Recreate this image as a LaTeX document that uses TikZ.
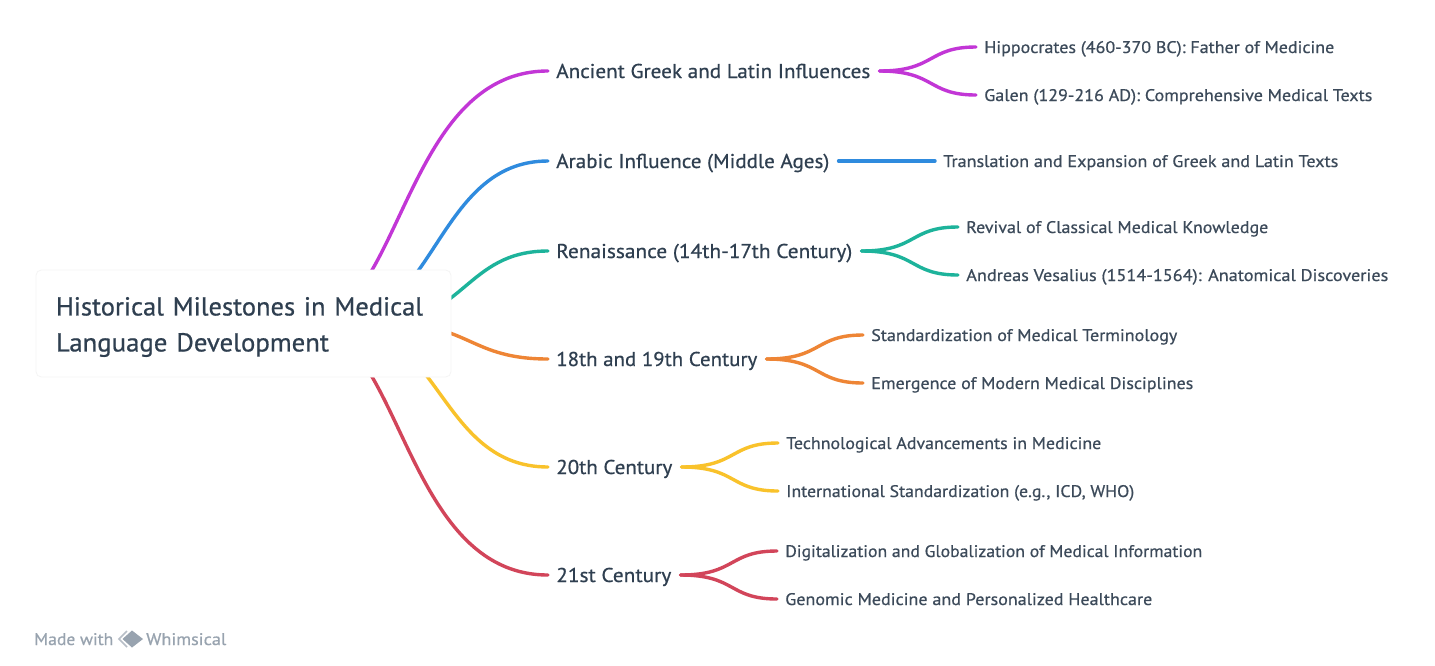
\documentclass[tikz,border=0pt]{standalone}
\usepackage{fontspec}
\usepackage{graphicx}
\setmainfont[FakeBold=0.6]{PT Sans}
\usetikzlibrary{backgrounds}
\definecolor{rootink}{HTML}{2F3F50}
\definecolor{labelink}{HTML}{2F3F50}
\definecolor{leafink}{HTML}{3C4A5A}
\definecolor{markink}{HTML}{98A3AF}
\definecolor{cpurple}{HTML}{C236D6}
\definecolor{cblue}{HTML}{2F8BDE}
\definecolor{cgreen}{HTML}{1DB39B}
\definecolor{corange}{HTML}{EE8535}
\definecolor{cyellow}{HTML}{F9C22B}
\definecolor{cred}{HTML}{D2455A}
\newlength\pxu \pxu=0.75pt
\newcommand\tw[2]{\resizebox{#1\pxu}{\height}{#2}}
\newcommand\rl[2]{\raisebox{-3.5\pxu}[\height][\depth]{\tw{#1}{#2}}}
\tikzset{
  x=0.75pt,y=-0.75pt,
  rootbox/.style={draw=black!4,fill=white,rounded corners=4pt,line width=.6pt,minimum width=415\pxu,minimum height=107\pxu,
    inner xsep=20\pxu,inner ysep=0pt,text width=375\pxu,align=left,text=rootink,font=\fontsize{19.5pt}{27pt}\selectfont},
  midlabel/.style={anchor=west,inner xsep=7\pxu,inner ysep=0pt,text height=16\pxu,text depth=2\pxu,text=labelink,font=\fontsize{15pt}{18pt}\selectfont},
  leaflabel/.style={anchor=west,inner xsep=7\pxu,inner ysep=0pt,text height=14\pxu,text depth=2\pxu,text=leafink,font=\fontsize{12.6pt}{15pt}\selectfont},
  marktext/.style={anchor=west,inner sep=0pt,text height=14\pxu,text depth=2\pxu,text=markink,font=\fontsize{12.6pt}{15pt}\selectfont},
  link/.style={line width=3.4\pxu,line cap=round,shorten >=1\pxu},
  sublink/.style={link,shorten <=2\pxu}
}
\newcommand\branch[3]{\draw[sublink,#1] (#2.east) .. controls +(58,0) and +(-50,0) .. (#3.west);}
\begin{document}
\begin{tikzpicture}
\useasboundingbox (0,0) rectangle (1435,665);
\node[rootbox] (root) at (243.5,323.5) {\rl{367}{Historical Milestones in Medical}\\\rl{273}{Language Development}};
\coordinate (sa) at (305,323.5);
\coordinate (sb) at (335,323.5);
\coordinate (sc) at (375,323.5);
\coordinate (sd) at (390,323.5);
\coordinate (se) at (340,323.5);
\coordinate (sf) at (305,323.5);

\node[midlabel] (ma) at (549,71) {\tw{314}{Ancient Greek and Latin Influences}};
\node[midlabel] (mb) at (549,161) {\tw{273}{Arabic Influence (Middle Ages)}};
\node[midlabel] (mc) at (549,251) {\tw{296}{Renaissance (14th-17th Century)}};
\node[midlabel] (md) at (549,359) {\tw{201}{18th and 19th Century}};
\node[midlabel] (me) at (549,467) {\tw{116}{20th Century}};
\node[midlabel] (mf) at (549,575) {\tw{115}{21st Century}};

\node[leaflabel] (a1) at (977,47) {\tw{350}{Hippocrates (460-370 BC): Father of Medicine}};
\node[leaflabel] (a2) at (977,95) {\tw{388}{Galen (129-216 AD): Comprehensive Medical Texts}};
\node[leaflabel] (b1) at (936,161) {\tw{395}{Translation and Expansion of Greek and Latin Texts}};
\node[leaflabel] (c1) at (959,227) {\tw{302}{Revival of Classical Medical Knowledge}};
\node[leaflabel] (c2) at (959,275) {\tw{422}{Andreas Vesalius (1514-1564): Anatomical Discoveries}};
\node[leaflabel] (d1) at (864,335) {\tw{306}{Standardization of Medical Terminology}};
\node[leaflabel] (d2) at (864,383) {\tw{322}{Emergence of Modern Medical Disciplines}};
\node[leaflabel] (e1) at (779,443) {\tw{315}{Technological Advancements in Medicine}};
\node[leaflabel] (e2) at (779,491) {\tw{348}{International Standardization (e.g., ICD, WHO)}};
\node[leaflabel] (f1) at (778,551) {\tw{417}{Digitalization and Globalization of Medical Information}};
\node[leaflabel] (f2) at (778,599) {\tw{367}{Genomic Medicine and Personalized Healthcare}};

\node[marktext] (made) at (34,639) {\tw{79}{Made with}};
\node[marktext] (whim) at (146,639) {\tw{80}{Whimsical}};
\fill[markink] (132,630.5) -- (143,639) -- (132,647.5) -- (122.5,639) -- cycle;
\draw[markink!70,line width=1.5\pxu] (127,631) -- (119,639) -- (127,647);

\begin{scope}[on background layer]
\fill[white] (0,0) rectangle (1435,665);
\draw[link,cpurple] (sa) .. controls (402,323.5) and (402,71) .. (ma.west);
\draw[link,cblue]   (sb) .. controls (436,323.5) and (436,161) .. (mb.west);
\draw[link,cgreen]  (sc) .. controls (465,323.5) and (465,251) .. (mc.west);
\draw[link,corange] (sd) .. controls (470,323.5) and (470,359) .. (md.west);
\draw[link,cyellow] (se) .. controls (440,323.5) and (440,467) .. (me.west);
\draw[link,cred]    (sf) .. controls (402,323.5) and (402,575) .. (mf.west);
\branch{cpurple}{ma}{a1}
\branch{cpurple}{ma}{a2}
\draw[sublink,cblue] (mb.east) -- (b1.west);
\branch{cgreen}{mc}{c1}
\branch{cgreen}{mc}{c2}
\branch{corange}{md}{d1}
\branch{corange}{md}{d2}
\branch{cyellow}{me}{e1}
\branch{cyellow}{me}{e2}
\branch{cred}{mf}{f1}
\branch{cred}{mf}{f2}
\end{scope}
\end{tikzpicture}
\end{document}
